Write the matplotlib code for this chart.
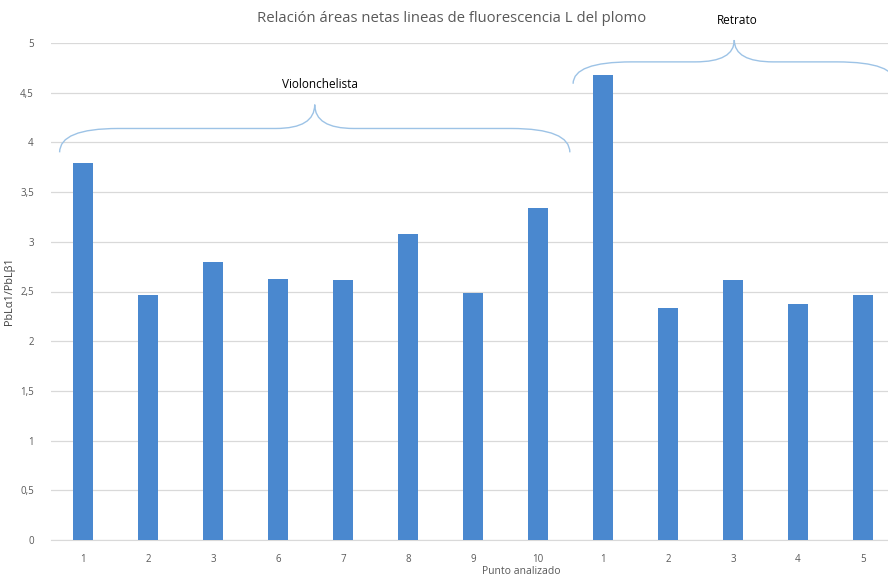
import matplotlib.pyplot as plt
from matplotlib.path import Path
from matplotlib.patches import PathPatch

plt.rcParams['font.family'] = ['Open Sans', 'DejaVu Sans']

puntos = ['1', '2', '3', '6', '7', '8', '9', '10', '1', '2', '3', '4', '5']
relacion = [3.79, 2.46, 2.80, 2.63, 2.62, 3.08, 2.48, 3.34, 4.68, 2.33, 2.62, 2.37, 2.46]
grupos = ['Violonchelista', 'Retrato']
grupo_ini = [0, 8]
grupo_fin = [7, 12]

fig = plt.figure(figsize=(8.88, 5.78), dpi=100)
ax = fig.add_axes([50.5 / 888, 38 / 578, 845 / 888, 497 / 578])

x = list(range(len(puntos)))
ax.bar(x, relacion, width=0.32, color='#4a88cf', zorder=3)
ax.set_xlim(-0.5, len(puntos) - 0.5)
ax.set_ylim(0, 5)
ax.set_xticks(x)
ax.set_xticklabels(puntos)
yt = [i * 0.5 for i in range(11)]
ax.set_yticks(yt)
ax.set_yticklabels([('%g' % v).replace('.', ',') for v in yt])
ax.tick_params(length=0, colors='#595959', labelsize=7, pad=10)
ax.tick_params(axis='y', pad=12)
ax.grid(axis='y', color='#d9d9d9', linewidth=0.9, zorder=0)
for s in ['top', 'right', 'left']:
    ax.spines[s].set_visible(False)
ax.spines['bottom'].set_color('#d9d9d9')

ax.set_xlabel('Punto analizado', color='#595959', fontsize=7.5)
ax.xaxis.set_label_coords(471 / 845, -25.5 / 497)
ax.set_ylabel('PbLα1/PbLβ1', color='#404040', fontsize=7.8)
ax.yaxis.set_label_coords(-35 / 845, 0.5)

fig.text(452 / 888, 1 - 18 / 578, 'Relación áreas netas lineas de fluorescencia L del plomo',
         ha='center', va='center', fontsize=10.7, color='#595959')


def llave(x0, x1, ye, yf, yt, a, b):
    xm = (x0 + x1) / 2
    verts = [(x0, ye), (x0, yf), (x0 + a, yf), (xm - b, yf), (xm, yf), (xm, yt),
             (xm, yf), (xm + b, yf), (x1 - a, yf), (x1, yf), (x1, ye)]
    codes = [Path.MOVETO, Path.CURVE3, Path.CURVE3, Path.LINETO, Path.CURVE3, Path.CURVE3,
             Path.CURVE3, Path.CURVE3, Path.LINETO, Path.CURVE3, Path.CURVE3]
    ax.add_patch(PathPatch(Path(verts, codes), fill=False, edgecolor='#9dc3e6',
                           linewidth=1.0, clip_on=False, zorder=4))


# Violonchelista
llave(grupo_ini[0] - 0.36, grupo_fin[0] + 0.49, 3.90, 4.14, 4.38, 0.9, 0.6)
ax.text(3.65, 4.58, grupos[0], ha='center', va='center', fontsize=8.5, color='black', clip_on=False)
# Retrato
llave(grupo_ini[1] - 0.46, grupo_fin[1] + 0.5, 4.59, 4.81, 5.03, 0.9, 0.6)
ax.text(10.06, 5.23, grupos[1], ha='center', va='center', fontsize=8.5, color='black', clip_on=False)

fig.savefig('out.png', dpi=100)
